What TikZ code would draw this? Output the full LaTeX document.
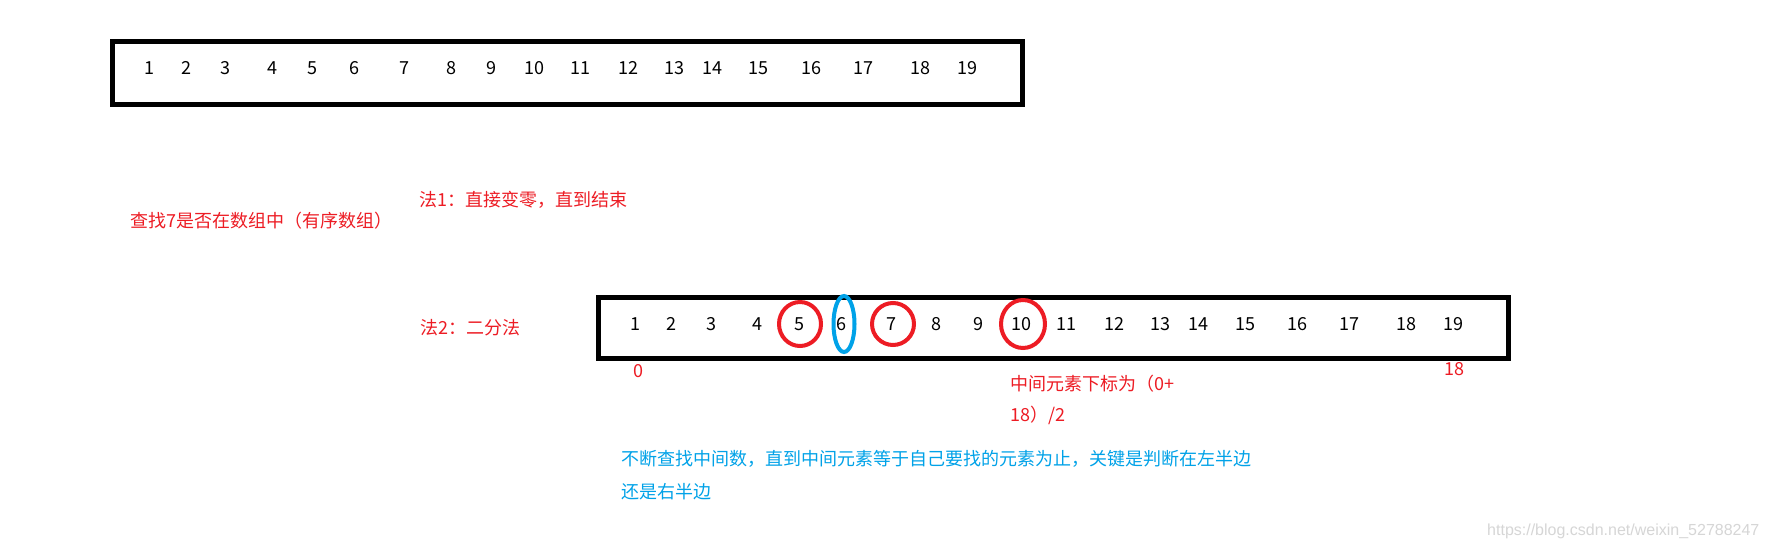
\documentclass[tikz,border=0pt]{standalone}
\usepackage{fontspec}
\setmainfont{Noto Sans CJK SC}
\newfontfamily\wmfont{Liberation Sans}
\definecolor{pred}{HTML}{ED1C24}
\definecolor{pblue}{HTML}{00A2E8}
\definecolor{wmgray}{HTML}{D6D6D6}
\tikzset{
  num/.style={inner sep=0pt, font=\fontsize{18}{22}\selectfont, text=black},
  arraybox/.style={draw=black, line width=5pt, inner sep=0pt},
  redtxt/.style={inner sep=0pt, anchor=west, text=pred, font=\fontsize{18}{22}\selectfont},
  bluetxt/.style={inner sep=0pt, anchor=west, text=pblue, font=\fontsize{18}{22}\selectfont},
  redring/.style={draw=pred, line width=4pt},
  bluering/.style={draw=pblue, line width=4pt},
}
\begin{document}
\begin{tikzpicture}[x=1pt,y=-1pt]
\useasboundingbox[fill=white] (0,0) rectangle (1767,549);

% top array
\node[arraybox, minimum width=910pt, minimum height=62.5pt] (topbox) at (567,72.75) {};
\foreach \v/\x in {1/149,2/186,3/225.5,4/272,5/312.5,6/354,7/404.5,8/451,9/491.5,10/534.5,11/580.5,12/628,13/674,14/712.5,15/758.5,16/811.5,17/863,18/920,19/967}
  \node[num] (t\v) at (\x,68) {\v};

% texts
\node[redtxt] (q) at (130,221) {查找7是否在数组中（有序数组）};
\node[redtxt] (m1) at (419,200) {法1：直接变零，直到结束};
\node[redtxt] (m2) at (420,328) {法2：二分法};

% second array
\node[arraybox, minimum width=909.5pt, minimum height=61pt] (botbox) at (1053.25,328) {};
\foreach \v/\x in {1/635,2/671,3/711,4/757,5/799,6/841,7/891,8/936.5,9/978,10/1021,11/1066,12/1114,13/1160.5,14/1198,15/1245,16/1297,17/1349,18/1406,19/1453}
  \node[num] (b\v) at (\x,324) {\v};

% rings
\draw[redring] ([xshift=1pt]b5.center) ellipse [x radius=21pt, y radius=22pt];
\draw[bluering] ([xshift=3pt]b6.center) ellipse [x radius=10.5pt, y radius=28pt];
\draw[redring] ([xshift=2pt]b7.center) ellipse [x radius=21pt, y radius=21pt];
\draw[redring] ([xshift=2pt]b10.center) ellipse [x radius=22pt, y radius=24pt];

% index labels
\node[num, text=pred] (i0) at (638,371) {0};
\node[num, text=pred] (i18) at (1454,369) {18};
\node[redtxt] (mid1) at (1010,384) {中间元素下标为（0+};
\node[redtxt] (mid2) at (1010,415) {18）/2};

% blue explanation
\node[bluetxt] (e1) at (621,459) {不断查找中间数，直到中间元素等于自己要找的元素为止，关键是判断在左半边};
\node[bluetxt] (e2) at (621,492) {还是右半边};

% watermark
\node[inner sep=0pt, anchor=west, text=wmgray, font=\wmfont\fontsize{16}{18}\selectfont] (wm) at (1487,531) {https://blog.csdn.net/weixin\_52788247};
\end{tikzpicture}
\end{document}
